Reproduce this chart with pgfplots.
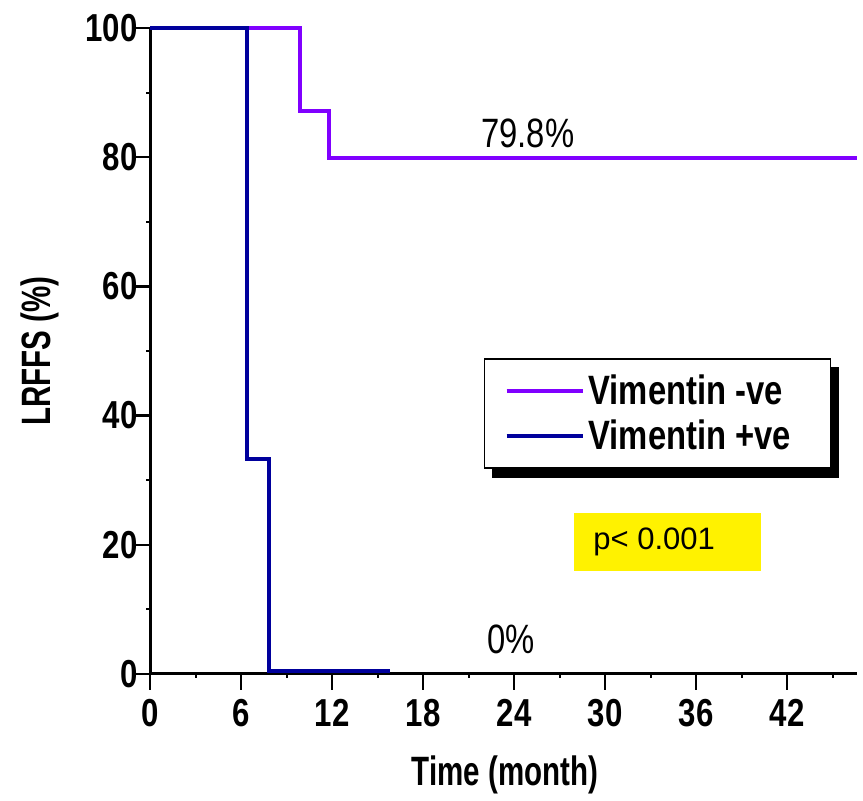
\documentclass[border=0pt]{standalone}
\usepackage{fontspec}
\setmainfont{Liberation Sans}[FakeStretch=0.8]
\newfontfamily\arialfont{Liberation Sans}
\newfontfamily\narrowfont{Liberation Sans}[FakeStretch=0.72]
\usepackage{pgfplots}
\pgfplotsset{compat=1.18}
\pgfdeclarelayer{background}
\pgfsetlayers{background,main}
\definecolor{vneg}{HTML}{8000FF}
\definecolor{vpos}{HTML}{00009C}
\begin{document}
\begin{tikzpicture}
\begin{axis}[
  scale only axis,
  width=353.5pt, height=323pt,
  xmin=0, xmax=46.6, ymin=0, ymax=100,
  axis x line*=bottom, axis y line*=left,
  axis line style={line width=1.5pt},
  xtick={0,6,...,42}, minor xtick={3,9,...,45},
  ytick={0,20,...,100}, minor ytick={10,30,...,90},
  tick style={line width=1.2pt, black},
  major tick length=8pt,
  tick align=outside,
  minor tick length=2pt,
  every minor tick/.style={line width=1pt},
  /pgf/number format/assume math mode=true,
  tick label style={font=\bfseries\fontsize{19.5}{20}\selectfont},
  xticklabel style={yshift=-1pt},
  yticklabel style={inner xsep=0pt, xshift=2pt},
  xlabel={Time (month)}, ylabel={LRFFS (\%)},
  label style={font=\narrowfont\bfseries\fontsize{20.5}{22}\selectfont},
  xlabel style={at={(axis description cs:0.502,-0.156)}, anchor=center},
  ylabel style={at={(axis description cs:-0.156,0.5)}, anchor=center},
  clip=false,
  legend cell align=left,
  legend image code/.code={\draw[#1, line width=2pt] (0pt,0pt) -- (38pt,0pt);},
  legend style={name=leg, at={(axis description cs:0.472,0.489)}, anchor=north west,
    draw=black, line width=0.8pt, fill=white,
    font=\bfseries\fontsize{20.5}{22}\selectfont,
    inner xsep=10pt, inner ysep=6pt,
    row sep=2pt},
]
\addplot[const plot, color=vneg, line width=2pt] coordinates {
  (0,100) (9.9,100) (9.9,87.2) (11.8,87.2) (11.8,79.8) (46.6,79.8)};
\addlegendentry{\makebox[109pt][l]{Vimentin -ve}}
\addplot[const plot, color=vpos, line width=2pt] coordinates {
  (0,100) (6.4,100) (6.4,33.3) (7.85,33.3) (7.85,0.4) (15.8,0.4)};
\addlegendentry{Vimentin +ve}
\node[font=\fontsize{20.5}{22}\selectfont] at (axis cs:24.9,83.7) {79.8\%};
\node[font=\fontsize{20.5}{22}\selectfont] at (axis cs:23.8,5.3) {0\%};
\node[fill=yellow, minimum width=93.5pt, minimum height=29pt, inner sep=0pt] at (axis cs:34.1,20.4) {};
\node[anchor=west, inner sep=0pt, font=\arialfont\fontsize{15.5}{16}\selectfont] at (axis cs:29.2,20.4) {p< 0.001};
\path[draw=none] (rel axis cs:-0.2122,1.0433) rectangle (rel axis cs:1.0085,-0.1935);
\end{axis}
\begin{pgfonlayer}{background}
\fill[black] ([shift={(4pt,-4.5pt)}]leg.south west) rectangle ([shift={(4pt,-4.5pt)}]leg.north east);
\end{pgfonlayer}
\end{tikzpicture}
\end{document}
